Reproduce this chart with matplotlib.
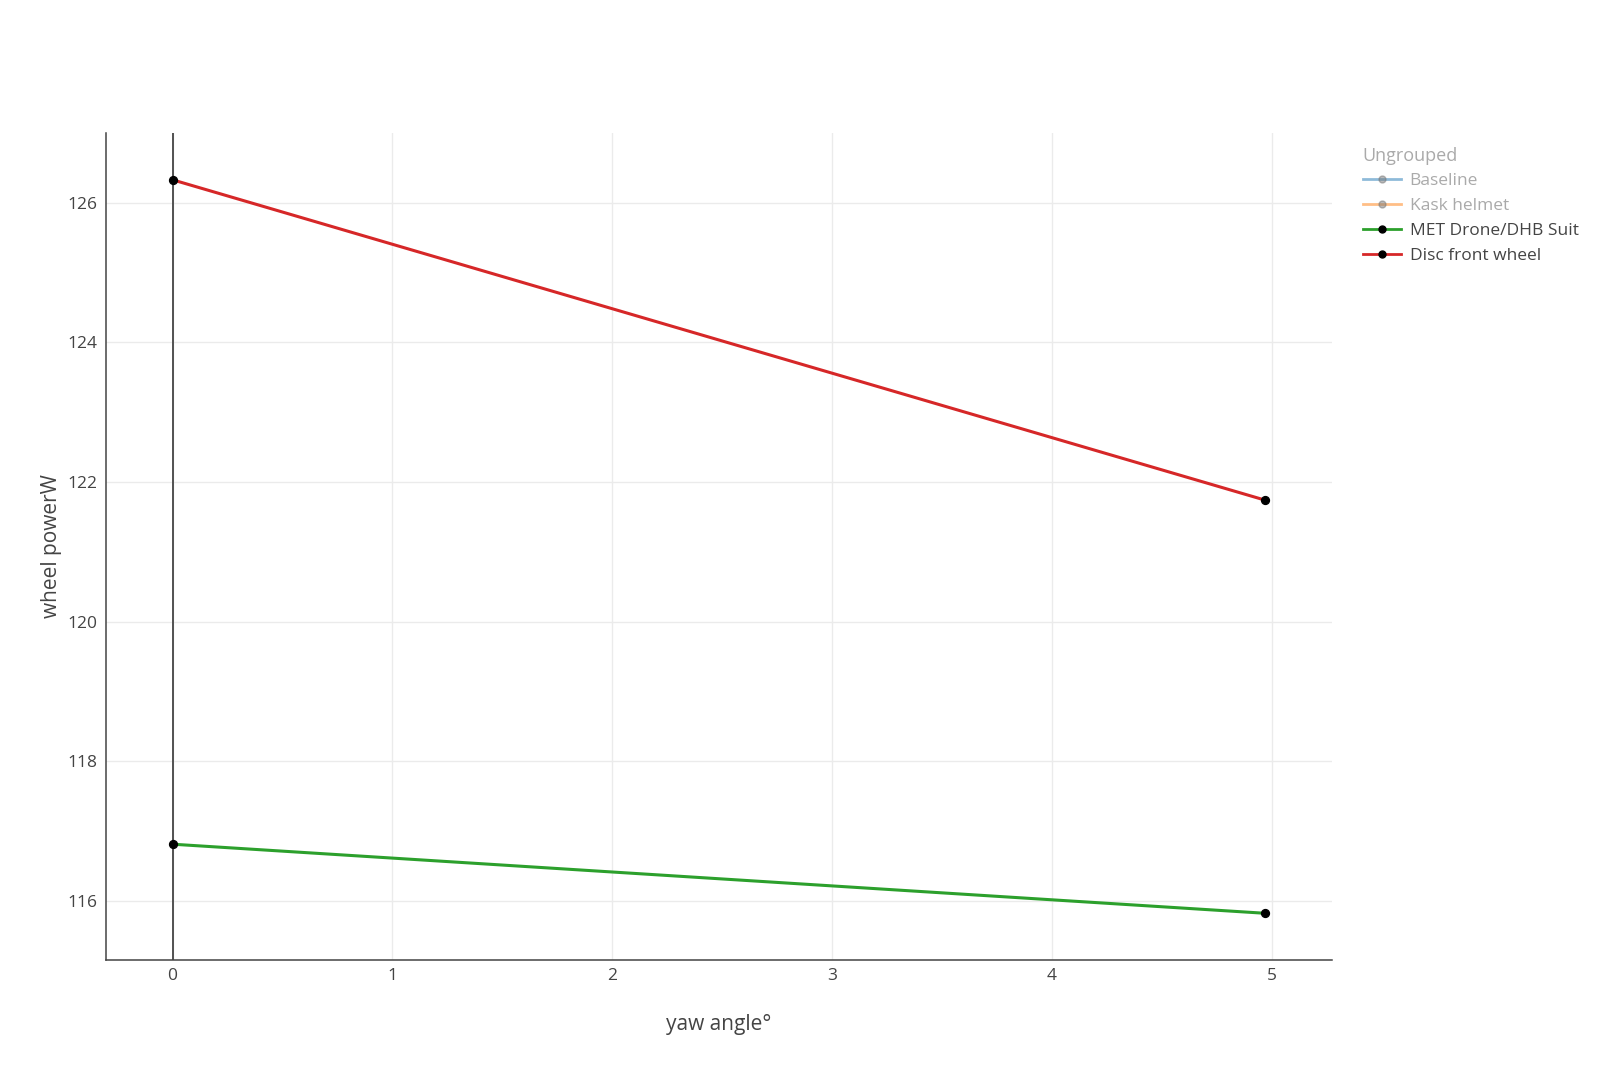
import matplotlib
matplotlib.use('Agg')
import matplotlib.pyplot as plt
from matplotlib.lines import Line2D

plt.rcParams['font.family'] = ['Open Sans', 'DejaVu Sans']

# data
yaw = [0, 4.97]
met_drone = [116.81, 115.82]
disc_wheel = [126.33, 121.74]

legend_names = ['Baseline', 'Kask helmet', 'MET Drone/DHB Suit', 'Disc front wheel']
legend_colors = ['#1f77b4', '#ff7f0e', '#2ca02c', '#d62728']
legend_hidden = [True, True, False, False]

x_ticks = [0, 1, 2, 3, 4, 5]
y_ticks = [116, 118, 120, 122, 124, 126]

fig = plt.figure(figsize=(16, 10.66), dpi=100)
ax = fig.add_axes([0.06625, 0.0994, 0.8323 - 0.06625, 0.8752 - 0.0994])

ax.set_xlim(-0.3026, 5.273)
ax.set_ylim(115.15, 127.0)
ax.set_xticks(x_ticks)
ax.set_yticks(y_ticks)
ax.grid(True, color='#ebebeb', linewidth=1)
ax.set_axisbelow(True)
ax.axvline(0, color='#444444', linewidth=1.3, zorder=1)

for s in ['top', 'right']:
    ax.spines[s].set_visible(False)
for s in ['left', 'bottom']:
    ax.spines[s].set_color('#444444')
    ax.spines[s].set_linewidth(1.1)

ax.tick_params(length=0, labelsize=12.5, labelcolor='#444444')
ax.tick_params(axis='x', pad=6)
ax.tick_params(axis='y', pad=6)

ax.plot(yaw, met_drone, color=legend_colors[2], linewidth=2.2, zorder=3)
ax.plot(yaw, disc_wheel, color=legend_colors[3], linewidth=2.2, zorder=3)
ax.scatter(yaw, met_drone, color='black', s=32, zorder=4)
ax.scatter(yaw, disc_wheel, color='black', s=32, zorder=4)

ax.set_xlabel('yaw angle°', fontsize=15, color='#444444', labelpad=21)
ax.set_ylabel('wheel powerW', fontsize=15, color='#444444', labelpad=4)

handles = []
for name, c, hid in zip(legend_names, legend_colors, legend_hidden):
    if hid:
        h = Line2D([], [], color=c, alpha=0.5, linewidth=2, marker='o',
                   markersize=5, markerfacecolor='#777777', markeredgecolor='#777777')
    else:
        h = Line2D([], [], color=c, linewidth=2, marker='o',
                   markersize=5, markerfacecolor='black', markeredgecolor='black')
    handles.append(h)

leg = fig.legend(handles, legend_names, title='Ungrouped', loc='upper left',
                 bbox_to_anchor=(1347 / 1600, 1 - 131 / 1066), frameon=False,
                 fontsize=12.5, title_fontsize=13, handlelength=2.2,
                 handletextpad=0.5, labelspacing=0.5, alignment='left')
leg.get_title().set_color('#aaaaaa')
for t, hid in zip(leg.get_texts(), legend_hidden):
    t.set_color('#aaaaaa' if hid else '#444444')

fig.savefig('out.png', dpi=100)
